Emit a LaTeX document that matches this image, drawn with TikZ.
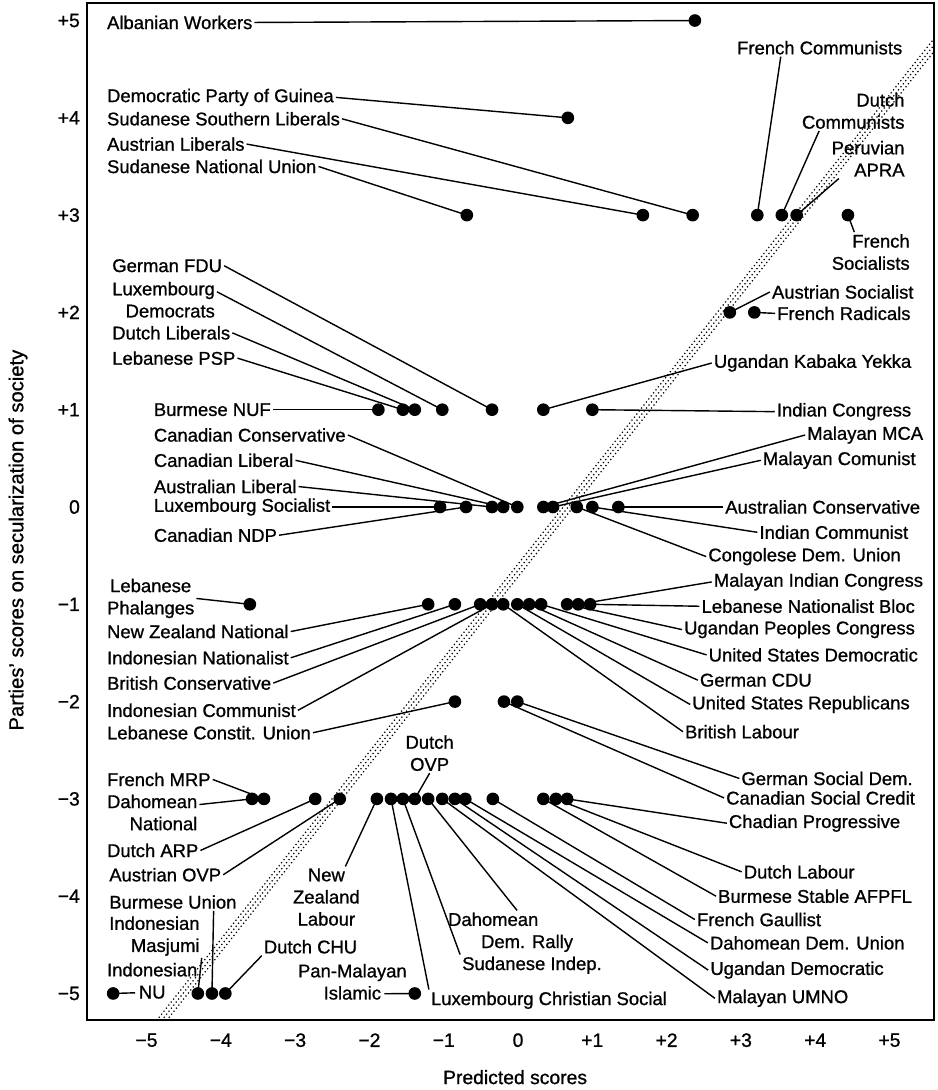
\documentclass[tikz,border=0pt]{standalone}
\usepackage{fontspec}
\setmainfont{Liberation Sans}[BoldFont={Liberation Sans}, BoldFeatures={FakeBold=0.9}]
\usetikzlibrary{calc}
\tikzset{
  lbl/.style={inner sep=1pt, font=\fontsize{10.5}{12.6}\selectfont\bfseries},
  link/.style={line width=0.8pt},
  ticklbl/.style={inner sep=1pt, font=\fontsize{11}{13}\selectfont\bfseries},
  band/.style={line width=0.7pt, dash pattern=on 0.7pt off 1.5pt}
}

\begin{document}
\begin{tikzpicture}[x=1.486cm, y=1.946cm]
\useasboundingbox (-7.053,-5.992) rectangle (5.559,5.211);
% diagonal band
\begin{scope}
    \clip (-5.88,-5.27) rectangle (5.52,5.18);
    \foreach \s in {-0.1,0,0.1}
        \draw[band, xshift=\s cm] (-5.3,-5.685) -- (5.9,5.116);
\end{scope}
\draw[line width=1.3pt] (-5.88,-5.27) rectangle (5.52,5.18);
% axes
\foreach \v/\t [count=\i] in {5/+5,4/+4,3/+3,2/+2,1/+1,0/0,-1/−1,-2/−2,-3/−3,-4/−4,-5/−5}
    \node[ticklbl, anchor=east] (yt\i) at (-5.95,\v) {\t};
\foreach \v/\t [count=\i] in {-5/−5,-4/−4,-3/−3,-2/−2,-1/−1,0/0,1/+1,2/+2,3/+3,4/+4,5/+5}
    \node[ticklbl] (xt\i) at ([xshift=-0.12cm]\v,-5.48) {\t};
\node[ticklbl, font=\fontsize{11.5}{13}\selectfont\bfseries, rotate=90] (ytitle) at (-6.81,-0.34) {Parties' scores on secularization of society};
\node[ticklbl] (xtitle) at (-0.12,-5.86) {Predicted scores};

% +5, +4, +3
\coordinate (d1) at (2.30,5);
\coordinate (d2) at (0.59,4);
\coordinate (d3) at (-0.77,3);
\coordinate (d4) at (1.60,3);
\coordinate (d5) at (2.27,3);
\coordinate (d6) at (3.14,3);
\coordinate (d7) at (3.47,3);
\coordinate (d8) at (3.67,3);
\coordinate (d9) at (4.36,3);
\node[lbl, anchor=west] (albw) at (-5.64,4.98) {Albanian Workers};
\node[lbl, anchor=west] (dpg) at (-5.64,4.21) {Democratic Party of Guinea};
\node[lbl, anchor=west] (ssl) at (-5.64,3.99) {Sudanese Southern Liberals};
\node[lbl, anchor=west] (austl) at (-5.64,3.73) {Austrian Liberals};
\node[lbl, anchor=west] (snu) at (-5.64,3.50) {Sudanese National Union};
\node[lbl] (frcom) at (3.98,4.72) {French Communists};
\node[lbl, anchor=east, align=right] (dcom) at (5.15,4.07) {Dutch\\Communists};
\node[lbl, anchor=east, align=right] (apra) at (5.15,3.58) {Peruvian\\APRA};
\node[lbl, anchor=east, align=right] (fsoc) at (5.22,2.62) {French\\Socialists};
\draw[link] (albw.east) -- (d1);
\draw[link] (dpg.east) -- (d2);
\draw[link] (snu.east) -- (d3);
\draw[link] (austl.east) -- (d4);
\draw[link] (ssl.east) -- (d5);
\draw[link] ($(frcom.south west)!.27!(frcom.south east)$) -- (d6);
\draw[link] ($(dcom.south west)!.18!(dcom.south east)$) -- (d7);
\draw[link] ($(apra.south west)!.12!(apra.south east)$) -- (d8);
\draw[link] ($(fsoc.north west)!.3!(fsoc.north east)$) -- (d9);

% +2, +1
\coordinate (d10) at (2.77,2);
\coordinate (d11) at (3.10,2);
\coordinate (d12) at (-1.96,1);
\coordinate (d13) at (-1.63,1);
\coordinate (d14) at (-1.47,1);
\coordinate (d15) at (-1.10,1);
\coordinate (d16) at (-0.43,1);
\coordinate (d17) at (0.26,1);
\coordinate (d18) at (0.92,1);
\node[lbl, anchor=west] (aussoc) at (3.31,2.21) {Austrian Socialist};
\node[lbl, anchor=west] (frrad) at (3.38,1.99) {French Radicals};
\node[lbl, anchor=west] (bnuf) at (-5.01,1.00) {Burmese NUF};
\node[lbl, anchor=west] (lpsp) at (-5.57,1.53) {Lebanese PSP};
\node[lbl, anchor=west] (dlib) at (-5.57,1.79) {Dutch Liberals};
\node[lbl, anchor=west, align=right] (ldem) at (-5.57,2.13) {Luxembourg\\Democrats};
\node[lbl, anchor=west] (gfdu) at (-5.57,2.48) {German FDU};
\node[lbl, anchor=east] (ukye) at (5.24,1.48) {Ugandan Kabaka Yekka};
\node[lbl, anchor=east] (icong) at (5.24,0.98) {Indian Congress};
\draw[link] (aussoc.west) -- (d10);
\draw[link] (frrad.west) -- (d11);
\draw[link] (bnuf.east) -- (d12);
\draw[link] (lpsp.east) -- (d13);
\draw[link] (dlib.east) -- (d14);
\draw[link] ($(ldem.north east)!.3!(ldem.south east)$) -- (d15);
\draw[link] (gfdu.east) -- (d16);
\draw[link] (ukye.west) -- (d17);
\draw[link] (icong.west) -- (d18);

% 0
\coordinate (d19) at (-1.13,0);
\coordinate (d20) at (-0.78,0);
\coordinate (d21) at (-0.43,0);
\coordinate (d22) at (-0.28,0);
\coordinate (d23) at (-0.09,0);
\coordinate (d24) at (0.26,0);
\coordinate (d25) at (0.39,0);
\coordinate (d26) at (0.71,0);
\coordinate (d27) at (0.92,0);
\coordinate (d28) at (1.27,0);
\node[lbl, anchor=west] (lsoc) at (-5.01,0) {Luxembourg Socialist};
\node[lbl, anchor=west] (cndp) at (-5.01,-0.29) {Canadian NDP};
\node[lbl, anchor=west] (aulib) at (-5.01,0.21) {Australian Liberal};
\node[lbl, anchor=west] (calib) at (-5.01,0.48) {Canadian Liberal};
\node[lbl, anchor=west] (cacon) at (-5.01,0.74) {Canadian Conservative};
\node[lbl, anchor=east] (mmca) at (5.40,0.74) {Malayan MCA};
\node[lbl, anchor=east] (mcom) at (5.30,0.48) {Malayan Comunist};
\node[lbl, anchor=east] (cdu) at (5.10,-0.51) {Congolese Dem. Union};
\node[lbl, anchor=east] (icom) at (5.20,-0.26) {Indian Communist};
\node[lbl, anchor=east] (aucon) at (5.36,0) {Australian Conservative};
\draw[link] (lsoc.east) -- (d19);
\draw[link] (cndp.east) -- (d20);
\draw[link] (aulib.east) -- (d21);
\draw[link] (calib.east) -- (d22);
\draw[link] (cacon.east) -- (d23);
\draw[link] (mmca.west) -- (d24);
\draw[link] (mcom.west) -- (d25);
\draw[link] (cdu.west) -- (d26);
\draw[link] (icom.west) -- (d27);
\draw[link] (aucon.west) -- (d28);

% -1, -2
\coordinate (d29) at (-3.69,-1);
\coordinate (d30) at (-1.29,-1);
\coordinate (d31) at (-0.93,-1);
\coordinate (d32) at (-0.59,-1);
\coordinate (d33) at (-0.43,-1);
\coordinate (d34) at (-0.28,-1);
\coordinate (d35) at (-0.09,-1);
\coordinate (d36) at (0.07,-1);
\coordinate (d37) at (0.23,-1);
\coordinate (d38) at (0.58,-1);
\coordinate (d39) at (0.73,-1);
\coordinate (d40) at (0.89,-1);
\coordinate (d41) at (-0.93,-2);
\coordinate (d42) at (-0.27,-2);
\coordinate (d43) at (-0.09,-2);
\node[lbl, anchor=west, align=center] (lphal) at (-5.64,-0.94) {Lebanese\\Phalanges};
\node[lbl, anchor=west] (nznat) at (-5.64,-1.28) {New Zealand National};
\node[lbl, anchor=west] (inat) at (-5.64,-1.55) {Indonesian Nationalist};
\node[lbl, anchor=west] (bcon) at (-5.64,-1.81) {British Conservative};
\node[lbl, anchor=west] (icomm) at (-5.64,-2.09) {Indonesian Communist};
\node[lbl, anchor=west] (lcu) at (-5.64,-2.32) {Lebanese Constit. Union};
\node[lbl, anchor=west] (blab) at (2.14,-2.31) {British Labour};
\node[lbl, anchor=east] (usrep) at (5.22,-2.03) {United States Republicans};
\node[lbl, anchor=west] (gcdu) at (2.34,-1.78) {German CDU};
\node[lbl, anchor=east] (usdem) at (5.33,-1.52) {United States Democratic};
\node[lbl, anchor=east] (upc) at (5.29,-1.26) {Ugandan Peoples Congress};
\node[lbl, anchor=east] (mic) at (5.40,-0.77) {Malayan Indian Congress};
\node[lbl, anchor=east] (lnb) at (5.29,-1.02) {Lebanese Nationalist Bloc};
\node[lbl, anchor=east] (csc) at (5.29,-2.99) {Canadian Social Credit};
\node[lbl, anchor=east] (gsd) at (5.26,-2.79) {German Social Dem.};
\draw[link] (lphal.east) -- (d29);
\draw[link] (nznat.east) -- (d30);
\draw[link] (inat.east) -- (d31);
\draw[link] (bcon.east) -- (d32);
\draw[link] (icomm.east) -- (d33);
\draw[link] (blab.west) -- (d34);
\draw[link] (usrep.west) -- (d35);
\draw[link] (gcdu.west) -- (d36);
\draw[link] (usdem.west) -- (d37);
\draw[link] (upc.west) -- (d38);
\draw[link] (mic.west) -- (d39);
\draw[link] (lnb.west) -- (d40);
\draw[link] (lcu.east) -- (d41);
\draw[link] (csc.west) -- (d42);
\draw[link] (gsd.west) -- (d43);

% -3
\coordinate (d44) at (-3.66,-3);
\coordinate (d45) at (-3.50,-3);
\coordinate (d46) at (-2.81,-3);
\coordinate (d47) at (-2.48,-3);
\coordinate (d48) at (-1.98,-3);
\coordinate (d49) at (-1.79,-3);
\coordinate (d50) at (-1.63,-3);
\coordinate (d51) at (-1.47,-3);
\coordinate (d52) at (-1.29,-3);
\coordinate (d53) at (-1.10,-3);
\coordinate (d54) at (-0.93,-3);
\coordinate (d55) at (-0.79,-3);
\coordinate (d56) at (-0.42,-3);
\coordinate (d57) at (0.26,-3);
\coordinate (d58) at (0.43,-3);
\coordinate (d59) at (0.58,-3);
\node[lbl, anchor=west, align=right] (dnat) at (-5.64,-3.14) {Dahomean\\National};
\node[lbl, anchor=west] (fmrp) at (-5.64,-2.80) {French MRP};
\node[lbl, anchor=west] (darp) at (-5.64,-3.53) {Dutch ARP};
\node[lbl, anchor=west] (aovp) at (-5.61,-3.78) {Austrian OVP};
\node[lbl, align=center] (nzlab) at (-2.66,-4.01) {New\\Zealand\\Labour};
\node[lbl, anchor=west] (lcs) at (-1.28,-5.07) {Luxembourg Christian Social};
\node[lbl, anchor=west] (sind) at (-0.86,-4.71) {Sudanese Indep.};
\node[lbl, align=center] (dovp) at (-1.27,-2.53) {Dutch\\OVP};
\node[lbl, anchor=west, align=left] (ddr) at (-1.05,-4.37) {Dahomean\\\hspace*{0.66cm}Dem. Rally};
\node[lbl, anchor=west] (umno) at (2.57,-5.05) {Malayan UMNO};
\node[lbl, anchor=west] (udem) at (2.48,-4.76) {Ugandan Democratic};
\node[lbl, anchor=east] (ddu) at (5.15,-4.48) {Dahomean Dem. Union};
\node[lbl, anchor=west] (fgau) at (2.30,-4.24) {French Gaullist};
\node[lbl, anchor=east] (bsaf) at (5.25,-4.00) {Burmese Stable AFPFL};
\node[lbl, anchor=west] (dlab) at (2.93,-3.75) {Dutch Labour};
\node[lbl, anchor=west] (chad) at (2.73,-3.25) {Chadian Progressive};
\draw[link] ($(dnat.north east)!.3!(dnat.south east)$) -- (d44);
\draw[link] (fmrp.east) -- (d45);
\draw[link] (darp.east) -- (d46);
\draw[link] (aovp.east) -- (d47);
\draw[link] ([xshift=0.38cm]nzlab.north) -- (d48);
\draw[link] (lcs.north west) -- (d49);
\draw[link] (sind.north west) -- (d50);
\draw[link] (dovp.south) -- (d51);
\draw[link] ($(ddr.north west)!.55!(ddr.north east)$) -- (d52);
\draw[link] (umno.west) -- (d53);
\draw[link] (udem.west) -- (d54);
\draw[link] (ddu.west) -- (d55);
\draw[link] (fgau.west) -- (d56);
\draw[link] (bsaf.west) -- (d57);
\draw[link] (dlab.west) -- (d58);
\draw[link] (chad.west) -- (d59);

% -5
\coordinate (d60) at (-5.53,-5);
\coordinate (d61) at (-4.39,-5);
\coordinate (d62) at (-4.20,-5);
\coordinate (d63) at (-4.02,-5);
\coordinate (d64) at (-1.47,-5);
\node[lbl, anchor=west, align=center] (inu) at (-5.64,-4.87) {Indonesian\\NU};
\node[lbl, anchor=west, align=right] (imas) at (-5.61,-4.41) {Indonesian\\Masjumi};
\node[lbl, anchor=west] (bun) at (-5.61,-4.06) {Burmese Union};
\node[lbl, anchor=west] (dchu) at (-3.53,-4.52) {Dutch CHU};
\node[lbl, align=center] (pmi) at (-2.31,-4.88) {Pan-Malayan\\Islamic};
\draw[link] (d60) -- ([xshift=-0.34cm,yshift=0.16cm]inu.south);
\draw[link] (imas.south east) -- (d61);
\draw[link] ($(bun.south west)!.81!(bun.south east)$) -- (d62);
\draw[link] (dchu.south west) -- (d63);
\draw[link] ([xshift=0.64cm,yshift=0.16cm]pmi.south) -- (d64);

\foreach \i in {1,...,64}
    \fill (d\i) circle (3.6pt);
\end{tikzpicture}
\end{document}
